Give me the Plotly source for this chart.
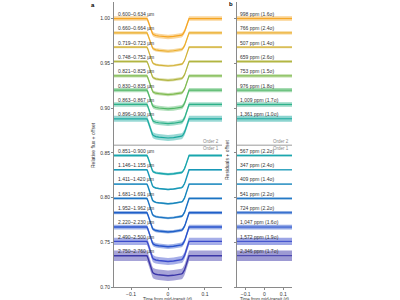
import plotly.graph_objects as go

# ---------------- data ----------------
labels_order2 = ["0.600–0.634 µm", "0.660–0.664 µm", "0.719–0.723 µm", "0.748–0.752 µm",
                 "0.821–0.825 µm", "0.830–0.835 µm", "0.863–0.867 µm", "0.896–0.900 µm"]
labels_order1 = ["0.851–0.900 µm", "1.146–1.155 µm", "1.411–1.420 µm", "1.681–1.691 µm",
                 "1.952–1.962 µm", "2.220–2.230 µm", "2.490–2.500 µm", "2.750–2.760 µm"]

baseline_order2 = [1.000, 0.984, 0.968, 0.952, 0.936, 0.920, 0.904, 0.888]
baseline_order1 = [0.847, 0.831, 0.815, 0.799, 0.783, 0.767, 0.751, 0.735]

depth_order2 = [0.0205, 0.0205, 0.021, 0.021, 0.021, 0.021, 0.0215, 0.0215]
depth_order1 = [0.021, 0.022, 0.022, 0.022, 0.0215, 0.022, 0.0225, 0.0225]

scatter_ppm_order2 = [998, 766, 507, 659, 753, 976, 1009, 1361]
scatter_ppm_order1 = [567, 347, 409, 541, 724, 1047, 1572, 2346]
sigma_order2 = ["1.6σ", "2.4σ", "1.4σ", "2.6σ", "1.5σ", "1.8σ", "1.7σ", "1.0σ"]
sigma_order1 = ["2.2σ", "2.4σ", "1.4σ", "2.2σ", "2.2σ", "1.6σ", "1.9σ", "1.7σ"]

# transit shape (fraction of full depth) read at key times (days from mid-transit)
shape_time = [-0.146, -0.057, -0.0545, -0.052, -0.0495, -0.047, -0.0445, -0.042, -0.0395,
              -0.037, -0.033, -0.025, -0.015, 0.0,
              0.015, 0.025, 0.033, 0.037, 0.0395, 0.042, 0.0445, 0.047, 0.0495, 0.052,
              0.0545, 0.057, 0.146]
shape_frac = [0.0, 0.0, 0.10, 0.25, 0.42, 0.58, 0.71, 0.81, 0.87,
              0.905, 0.925, 0.95, 0.975, 1.0,
              0.975, 0.95, 0.925, 0.905, 0.87, 0.81, 0.71, 0.58, 0.42, 0.25,
              0.10, 0.0, 0.0]

order_split = 0.8585
x_ticks = [-0.1, 0, 0.1]
x_ticktext = ["−0.1", "0", "0.1"]
y_ticks = [0.70, 0.75, 0.80, 0.85, 0.90, 0.95, 1.00]
y_ticktext = ["0.70", "0.75", "0.80", "0.85", "0.90", "0.95", "1.00"]

# ---------------- styles ----------------
colors = ["#f5a522", "#ecae2d", "#d3b33a", "#b2b541", "#80bb51", "#50b767", "#2cb189", "#1aa99f",
          "#19a6ad", "#1898b7", "#1886bd", "#1a73c3", "#1f5fc8", "#2a54cd", "#3a4bcb", "#3b36a8"]
FONT = "Liberation Sans, Arial, sans-serif"
AX_COL = "#8a8a8a"


def rgba(hexc, a):
    h = hexc.lstrip("#")
    return "rgba(%d,%d,%d,%.2f)" % (int(h[0:2], 16), int(h[2:4], 16), int(h[4:6], 16), a)


fig = go.Figure()

labels = labels_order2 + labels_order1
baselines = baseline_order2 + baseline_order1
depths = depth_order2 + depth_order1
ppms = scatter_ppm_order2 + scatter_ppm_order1
sigmas = sigma_order2 + sigma_order1

annotations = []
for i in range(len(labels)):
    b = baselines[i]
    d = depths[i]
    half = 2.5 * ppms[i] * 1e-6
    model = [b - d * f for f in shape_frac]
    col = colors[i]
    # light curve scatter (band) panel a
    fig.add_trace(go.Scatter(x=shape_time, y=[m - half for m in model], mode="lines",
                             line=dict(width=0, color=col),
                             xaxis="x", yaxis="y", hoverinfo="skip", showlegend=False))
    fig.add_trace(go.Scatter(x=shape_time, y=[m + half for m in model], mode="lines",
                             line=dict(width=0, color=col),
                             fill="tonexty", fillcolor=rgba(col, 0.45),
                             xaxis="x", yaxis="y", hoverinfo="skip", showlegend=False))
    fig.add_trace(go.Scatter(x=shape_time, y=model, mode="lines",
                             line=dict(width=1.4 if i >= 8 else 1.2, color=col),
                             xaxis="x", yaxis="y", hoverinfo="skip", showlegend=False))
    # residuals panel b
    xr = [shape_time[0], shape_time[-1]]
    fig.add_trace(go.Scatter(x=xr, y=[b - half, b - half], mode="lines",
                             line=dict(width=0, color=col), xaxis="x2", yaxis="y2",
                             hoverinfo="skip", showlegend=False))
    fig.add_trace(go.Scatter(x=xr, y=[b + half, b + half], mode="lines",
                             line=dict(width=0, color=col), fill="tonexty",
                             fillcolor=rgba(col, 0.5), xaxis="x2", yaxis="y2",
                             hoverinfo="skip", showlegend=False))
    fig.add_trace(go.Scatter(x=xr, y=[b, b], mode="lines",
                             line=dict(width=1.0, color=col), xaxis="x2", yaxis="y2",
                             hoverinfo="skip", showlegend=False))
    # labels
    annotations.append(dict(x=-0.141, y=b + 0.0052, xref="x", yref="y", text=labels[i],
                            showarrow=False, xanchor="left", yanchor="middle",
                            font=dict(size=5, color="#333", family=FONT)))
    ppm_txt = "{:,}".format(ppms[i])
    annotations.append(dict(x=-0.139, y=b + 0.0052, xref="x2", yref="y2",
                            text="%s ppm (%s)" % (ppm_txt, sigmas[i]),
                            showarrow=False, xanchor="left", yanchor="middle",
                            font=dict(size=5, color="#333", family=FONT)))

# order separators
for xa, ya in (("x", "y"), ("x2", "y2")):
    fig.add_trace(go.Scatter(x=[shape_time[0], shape_time[-1]], y=[order_split, order_split],
                             mode="lines", line=dict(width=1, color="#9a9a9a"),
                             xaxis=xa, yaxis=ya, hoverinfo="skip", showlegend=False))
    annotations.append(dict(x=0.143, y=order_split + 0.0038, xref=xa, yref=ya, text="Order 2",
                            showarrow=False, xanchor="right", yanchor="middle",
                            font=dict(size=4.5, color="#888", family=FONT)))
    annotations.append(dict(x=0.143, y=order_split - 0.0036, xref=xa, yref=ya, text="Order 1",
                            showarrow=False, xanchor="right", yanchor="middle",
                            font=dict(size=4.5, color="#888", family=FONT)))

# panel letters and axis titles
annotations += [
    dict(x=93 / 400, y=1 - 5 / 300, xref="paper", yref="paper", text="<b>a</b>", showarrow=False,
         xanchor="center", yanchor="middle", font=dict(size=6, color="#000", family=FONT)),
    dict(x=231 / 400, y=1 - 4 / 300, xref="paper", yref="paper", text="<b>b</b>", showarrow=False,
         xanchor="center", yanchor="middle", font=dict(size=6, color="#000", family=FONT)),
    dict(x=93 / 400, y=1 - 145 / 300, xref="paper", yref="paper", text="Relative flux + offset",
         showarrow=False, textangle=-90, xanchor="center", yanchor="middle",
         font=dict(size=5, color="#333", family=FONT)),
    dict(x=227 / 400, y=1 - 160 / 300, xref="paper", yref="paper", text="Residuals + offset",
         showarrow=False, textangle=-90, xanchor="center", yanchor="middle",
         font=dict(size=5, color="#333", family=FONT)),
    dict(x=168 / 400, y=1 - 294.5 / 300, xref="paper", yref="paper", text="Time from mid-transit (d)",
         showarrow=False, xanchor="center", yanchor="top",
         font=dict(size=4.5, color="#333", family=FONT)),
    dict(x=265 / 400, y=1 - 294.5 / 300, xref="paper", yref="paper", text="Time from mid-transit (d)",
         showarrow=False, xanchor="center", yanchor="top",
         font=dict(size=4.5, color="#333", family=FONT)),
]

xcommon = dict(range=[-0.146, 0.146], tickvals=x_ticks, ticktext=x_ticktext, showgrid=False,
               zeroline=False, showline=True, linecolor=AX_COL, linewidth=1, ticks="outside",
               ticklen=2, tickcolor=AX_COL, automargin=False,
               tickfont=dict(size=5, color="#333", family=FONT))
ycommon = dict(range=[0.70, 1.0185], domain=[0.0433, 0.9933], tickvals=y_ticks, showgrid=False,
               zeroline=False, showline=True, linecolor=AX_COL, linewidth=1, ticks="outside",
               ticklen=2, tickcolor=AX_COL, automargin=False,
               tickfont=dict(size=5, color="#333", family=FONT))

fig.update_layout(
    width=400, height=300, margin=dict(l=0, r=0, t=0, b=0, autoexpand=False),
    paper_bgcolor="white", plot_bgcolor="white", showlegend=False,
    xaxis=dict(xcommon, domain=[114 / 400, 222 / 400], anchor="y"),
    yaxis=dict(ycommon, ticktext=y_ticktext, anchor="x"),
    xaxis2=dict(xcommon, domain=[237 / 400, 292 / 400], anchor="y2"),
    yaxis2=dict(ycommon, showticklabels=False, anchor="x2"),
    annotations=annotations,
)

fig.write_html("out.html", config={"displayModeBar": False, "staticPlot": True},
               post_script="document.body.style.margin='0';document.body.style.overflow='hidden';")
